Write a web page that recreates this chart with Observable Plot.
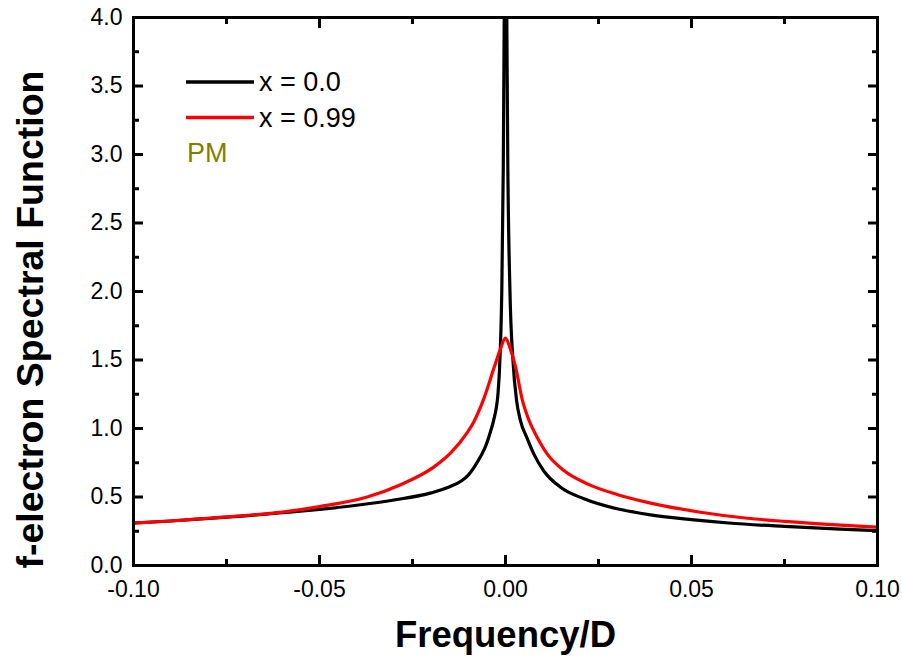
<!DOCTYPE html>
<html>
<head>
<meta charset="utf-8">
<script src="https://cdn.jsdelivr.net/npm/d3@7"></script>
<script src="https://cdn.jsdelivr.net/npm/@observablehq/plot@0.6"></script>
<style>
  html, body { margin: 0; padding: 0; background: #fff; }
  #chart { width: 902px; height: 660px; }
</style>
</head>
<body>
<div id="chart"></div>
<script>
// ---- data ----
const freqX0 = [-0.1, -0.09, -0.08, -0.07, -0.06, -0.05, -0.04, -0.03, -0.02, -0.015, -0.012, -0.01, -0.0085, -0.0067, -0.0052, -0.004, -0.0031, -0.002, -0.0015, -0.001, -0.0006, -0.0003, 0, 0.0003, 0.0006, 0.0012, 0.002, 0.003, 0.004, 0.0058, 0.0076, 0.0103, 0.0148, 0.0211, 0.03, 0.039, 0.05, 0.06, 0.075, 0.09, 0.1];
const specX0 = [0.31, 0.325, 0.343, 0.362, 0.385, 0.41, 0.44, 0.478, 0.53, 0.575, 0.615, 0.66, 0.715, 0.795, 0.88, 0.98, 1.07, 1.26, 1.5, 2.0, 2.9, 4.2, 5.5, 4.2, 3.0, 2.0, 1.5, 1.2, 1.06, 0.93, 0.815, 0.69, 0.571, 0.487, 0.414, 0.37, 0.335, 0.31, 0.285, 0.265, 0.255];

const freqX99 = [-0.1, -0.09, -0.08, -0.07, -0.06, -0.05, -0.0372, -0.0282, -0.0193, -0.0148, -0.0103, -0.0085, -0.0058, -0.003, -0.0015, 0, 0.0013, 0.0027, 0.0045, 0.0063, 0.0085, 0.0112, 0.0157, 0.022, 0.03, 0.039, 0.0524, 0.065, 0.075, 0.09, 0.1];
const specX99 = [0.31, 0.325, 0.345, 0.365, 0.39, 0.43, 0.5, 0.59, 0.718, 0.82, 0.97, 1.05, 1.22, 1.45, 1.57, 1.66, 1.58, 1.45, 1.21, 1.06, 0.937, 0.815, 0.693, 0.596, 0.518, 0.455, 0.389, 0.345, 0.322, 0.295, 0.28];

const seriesNames = ["x = 0.0", "x = 0.99"];
const seriesColors = ["#000000", "#ff0000"];
const annotation = "PM";

const xMajorTicks = [-0.1, -0.05, 0, 0.05, 0.1];
const xMinorTicks = [-0.075, -0.025, 0.025, 0.075];
const yMajorTicks = [0, 0.5, 1, 1.5, 2, 2.5, 3, 3.5, 4];
const yMinorTicks = [0.25, 0.75, 1.25, 1.75, 2.25, 2.75, 3.25, 3.75];

const xLabel = "Frequency/D";
const yLabel = "f-electron Spectral Function";

const rows0 = freqX0.map((f, i) => ({f, s: specX0[i]}));
const rows99 = freqX99.map((f, i) => ({f, s: specX99[i]}));

const font = "'Liberation Sans', Arial, Helvetica, sans-serif";
const tickFont = 23;

const plot = Plot.plot({
  width: 902,
  height: 660,
  marginLeft: 133,
  marginRight: 25,
  marginTop: 17,
  marginBottom: 95,
  style: {fontFamily: font, background: "#fff", color: "#000"},
  x: {domain: [-0.1, 0.1]},
  y: {domain: [0, 4]},
  marks: [
    Plot.line(rows0, {x: "f", y: "s", stroke: seriesColors[0], strokeWidth: 3.2, curve: "monotone-x", clip: true}),
    Plot.line(rows99, {x: "f", y: "s", stroke: seriesColors[1], strokeWidth: 3.2, curve: "monotone-x", clip: true}),
    Plot.axisX(xMajorTicks, {anchor: "bottom", tickSize: -10, tickPadding: 25, strokeWidth: 3, fontSize: tickFont, tickFormat: d => d.toFixed(2), label: null}),
    Plot.axisX(xMajorTicks, {anchor: "top", tickSize: -10, strokeWidth: 3, tickFormat: () => "", label: null}),
    Plot.axisX(xMinorTicks, {anchor: "bottom", tickSize: -6, strokeWidth: 3, tickFormat: () => "", label: null}),
    Plot.axisX(xMinorTicks, {anchor: "top", tickSize: -6, strokeWidth: 3, tickFormat: () => "", label: null}),
    Plot.axisY(yMajorTicks, {anchor: "left", tickSize: -10, tickPadding: 21, strokeWidth: 3, fontSize: tickFont, tickFormat: d => d.toFixed(1), label: null}),
    Plot.axisY(yMajorTicks, {anchor: "right", tickSize: -10, strokeWidth: 3, tickFormat: () => "", label: null}),
    Plot.axisY(yMinorTicks, {anchor: "left", tickSize: -6, strokeWidth: 3, tickFormat: () => "", label: null}),
    Plot.axisY(yMinorTicks, {anchor: "right", tickSize: -6, strokeWidth: 3, tickFormat: () => "", label: null}),
    Plot.frame({stroke: "#000", strokeWidth: 3}),
    Plot.text([xLabel], {frameAnchor: "bottom", textAnchor: "middle", lineAnchor: "middle", dy: 70, fontSize: 36.5, fontWeight: "bold", fill: "#000"}),
    Plot.text([yLabel], {frameAnchor: "left", textAnchor: "middle", lineAnchor: "middle", rotate: -90, dx: -103, dy: 28, fontSize: 37.5, fontWeight: "bold", fill: "#000"})
  ]
});

document.getElementById("chart").appendChild(plot);

// legend drawn inside the svg
const svg = d3.select(plot);
const lg = svg.append("g").attr("font-family", font).attr("text-anchor", "start");
seriesNames.forEach((name, i) => {
  const y = 82 + i * 35.5;
  lg.append("line").attr("x1", 186).attr("x2", 254).attr("y1", y).attr("y2", y)
    .attr("stroke", seriesColors[i]).attr("stroke-width", 3.5);
  lg.append("text").attr("x", 259).attr("y", y).attr("dy", "0.35em")
    .attr("font-size", 27).attr("fill", "#000").text(name);
});
lg.append("text").attr("x", 187).attr("y", 153).attr("dy", "0.35em")
  .attr("font-size", 27).attr("fill", "#808000").text(annotation);
</script>
</body>
</html>
